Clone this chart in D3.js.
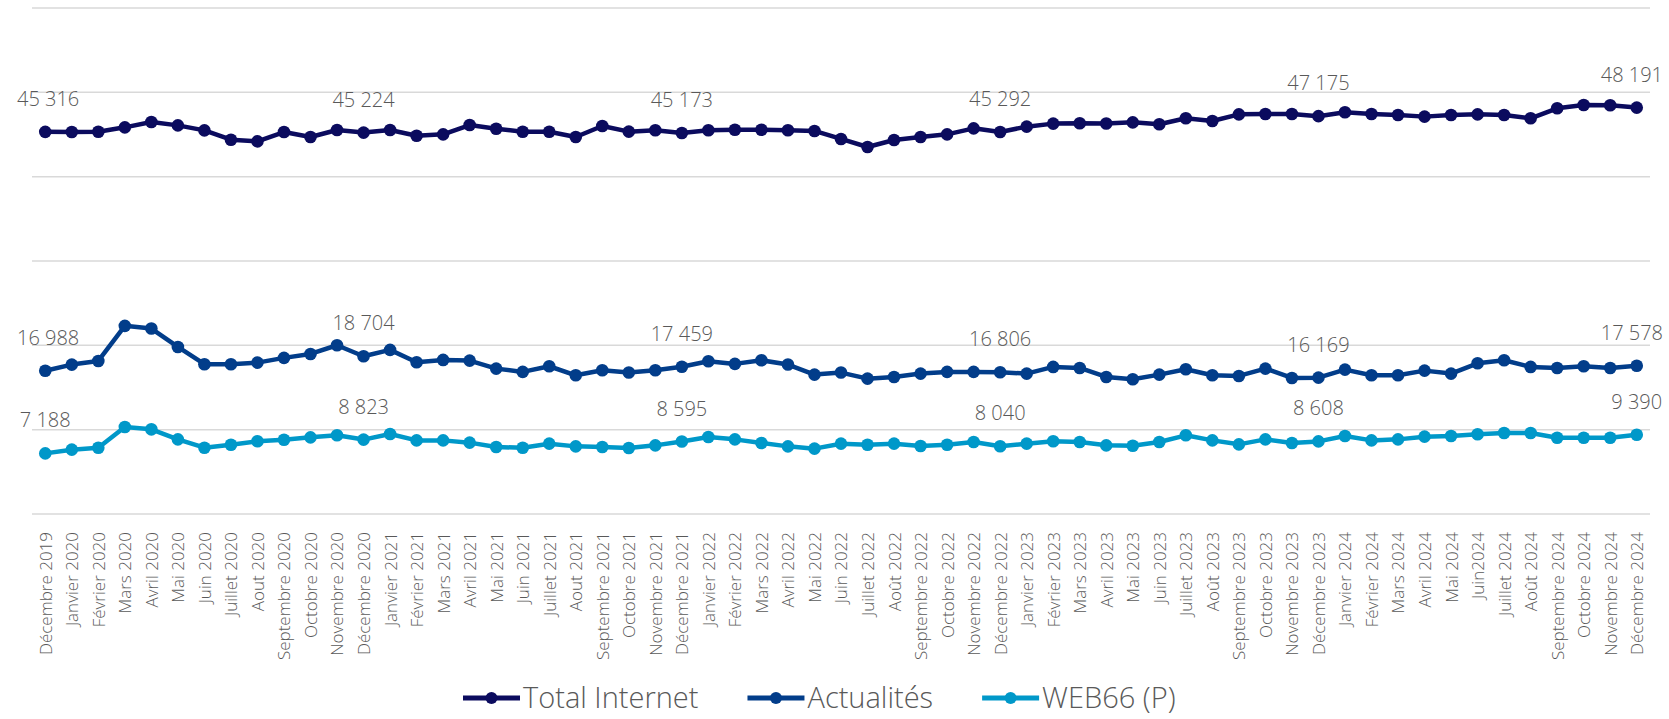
<!DOCTYPE html>
<html>
<head>
<meta charset="utf-8">
<script src="https://cdn.jsdelivr.net/npm/d3@7"></script>
<style>
	html, body { margin: 0; padding: 0; background: #fff; }
	svg { display: block; font-family: "Open Sans", "Noto Sans", sans-serif; font-weight: 300; }
</style>
</head>
<body>
<div id="chart"></div>
<script>

const months = [
	"Décembre 2019",
	"Janvier 2020", "Février 2020", "Mars 2020", "Avril 2020", "Mai 2020", "Juin 2020",
	"Juillet 2020", "Aout 2020", "Septembre 2020", "Octobre 2020", "Novembre 2020", "Décembre 2020",
	"Janvier 2021", "Février 2021", "Mars 2021", "Avril 2021", "Mai 2021", "Juin 2021",
	"Juillet 2021", "Aout 2021", "Septembre 2021", "Octobre 2021", "Novembre 2021", "Décembre 2021",
	"Janvier 2022", "Février 2022", "Mars 2022", "Avril 2022", "Mai 2022", "Juin 2022",
	"Juillet 2022", "Août 2022", "Septembre 2022", "Octobre 2022", "Novembre 2022", "Décembre 2022",
	"Janvier 2023", "Février 2023", "Mars 2023", "Avril 2023", "Mai 2023", "Juin 2023",
	"Juillet 2023", "Août 2023", "Septembre 2023", "Octobre 2023", "Novembre 2023", "Décembre 2023",
	"Janvier 2024", "Février 2024", "Mars 2024", "Avril 2024", "Mai 2024", "Juin2024",
	"Juillet 2024", "Août 2024", "Septembre 2024", "Octobre 2024", "Novembre 2024", "Décembre 2024"
];

const totalInternet = [
	45316, 45300, 45330, 45850, 46480, 46080, 45490, 44380, 44190, 45290, 44700, 45530,
	45224, 45540, 44860, 45020, 46120, 45690, 45330, 45330, 44700, 46010, 45340, 45500,
	45173, 45500, 45570, 45570, 45500, 45420, 44470, 43520, 44350, 44700, 45020, 45730,
	45292, 45930, 46290, 46330, 46300, 46440, 46210, 46920, 46600, 47390, 47430, 47430,
	47175, 47630, 47430, 47320, 47120, 47320, 47390, 47320, 46920, 48110, 48500, 48460,
	48191
];

const actualites = [
	16988, 17716, 18150, 22310, 21990, 19810, 17760, 17760, 17950, 18510, 18980, 20010,
	18704, 19460, 17990, 18270, 18190, 17240, 16850, 17520, 16450, 17040, 16770, 17040,
	17459, 18110, 17800, 18230, 17720, 16530, 16770, 16050, 16250, 16650, 16850, 16850,
	16806, 16650, 17440, 17320, 16250, 15980, 16530, 17160, 16450, 16370, 17240, 16130,
	16169, 17120, 16450, 16450, 17000, 16650, 17870, 18230, 17440, 17320, 17520, 17320,
	17578
];

const web66 = [
	7188, 7630, 7860, 10320, 10040, 8850, 7860, 8220, 8620, 8810, 9090, 9330,
	8823, 9490, 8730, 8730, 8460, 7940, 7860, 8340, 8020, 7940, 7820, 8140,
	8595, 9130, 8850, 8420, 8020, 7750, 8340, 8220, 8340, 8060, 8220, 8540,
	8040, 8340, 8620, 8540, 8140, 8100, 8540, 9330, 8730, 8260, 8850, 8420,
	8608, 9250, 8730, 8850, 9170, 9250, 9450, 9600, 9600, 9050, 9050, 9050,
	9390
];

const seriesNames = ["Total Internet", "Actualités", "WEB66 (P)"];
const seriesColors = ["#0b0b5e", "#023d8a", "#0098c9"];
const yTicks = [0, 10000, 20000, 30000, 40000, 50000, 60000];
const labelEvery = 12;

const WIDTH = 1669;
const HEIGHT = 719;
const TEXT_COLOR = "#595959";
const GRID_COLOR = "#d9d9d9";

const margin = { top: 8, left: 32, right: 19 };
const plotBottom = 514;

const series = [totalInternet, actualites, web66].map((values, i) => ({
	name: seriesNames[i],
	color: seriesColors[i],
	values: values
}));

const formatNumber = d3.formatLocale({ decimal: ",", thousands: " ", grouping: [3], currency: ["", " €"] }).format(",d");

const svg = d3.select("#chart").append("svg")
	.attr("width", WIDTH)
	.attr("height", HEIGHT);

const x = d3.scalePoint()
	.domain(months)
	.range([margin.left, WIDTH - margin.right])
	.padding(0.5);

const y = d3.scaleLinear()
	.domain([0, 60000])
	.range([plotBottom, margin.top]);

// horizontal grid (the 0 line doubles as the axis)
svg.append("g")
	.selectAll("line")
	.data(yTicks)
	.enter()
	.append("line")
	.attr("x1", margin.left)
	.attr("x2", WIDTH - margin.right)
	.attr("y1", d => y(d))
	.attr("y2", d => y(d))
	.attr("stroke", GRID_COLOR)
	.attr("stroke-width", 1.5);

// month labels, rotated
const axisX = d3.axisBottom(x).tickSize(0).tickPadding(0);
const gAxis = svg.append("g")
	.attr("transform", `translate(0,${plotBottom + 18})`)
	.call(axisX);
gAxis.select(".domain").remove();
gAxis.selectAll("text")
	.attr("transform", "rotate(-90)")
	.attr("text-anchor", "end")
	.attr("x", 0)
	.attr("y", 0)
	.attr("dy", "0.35em")
	.attr("fill", TEXT_COLOR)
	.style("font-family", "\"Open Sans\", sans-serif")
	.style("font-weight", 300)
	.style("font-size", "17px");

const line = d3.line()
	.x((d, i) => x(months[i]))
	.y(d => y(d));

const gSeries = svg.selectAll(".series")
	.data(series)
	.enter()
	.append("g")
	.attr("class", "series");

gSeries.append("path")
	.attr("d", d => line(d.values))
	.attr("fill", "none")
	.attr("stroke", d => d.color)
	.attr("stroke-width", 4.5)
	.attr("stroke-linejoin", "round");

gSeries.selectAll("circle")
	.data(d => d.values.map(v => ({ v: v, color: d.color })))
	.enter()
	.append("circle")
	.attr("cx", (d, i) => x(months[i]))
	.attr("cy", d => y(d.v))
	.attr("r", 6.3)
	.attr("fill", d => d.color);

// data labels every 12 months
const gLabels = svg.append("g")
	.attr("fill", TEXT_COLOR)
	.style("font-size", "20px");

series.forEach(s => {
	s.values.forEach((v, i) => {
		if (i % labelEvery !== 0) return;
		let t = gLabels.append("text")
			.attr("y", y(v) - 26)
			.attr("text-anchor", "middle")
			.text(formatNumber(v));
		let half = t.node().getComputedTextLength() / 2;
		let cx = Math.max(x(months[i]), 17 + half);
		cx = Math.min(cx, WIDTH - 6 - half);
		t.attr("x", cx);
	});
});

// legend
const gLegend = svg.append("g")
	.attr("transform", `translate(463,698)`);

let offset = 0;
series.forEach(s => {
	let g = gLegend.append("g")
		.attr("transform", `translate(${offset},0)`);
	g.append("line")
		.attr("x1", 0)
		.attr("x2", 57)
		.attr("stroke", s.color)
		.attr("stroke-width", 5);
	g.append("circle")
		.attr("cx", 28.5)
		.attr("r", 6)
		.attr("fill", s.color);
	let t = g.append("text")
		.attr("x", 60)
		.attr("dy", "0.35em")
		.attr("fill", TEXT_COLOR)
		.style("font-size", "29px")
		.text(s.name);
	offset += 60 + t.node().getComputedTextLength() + 49;
});

</script>
</body>
</html>
